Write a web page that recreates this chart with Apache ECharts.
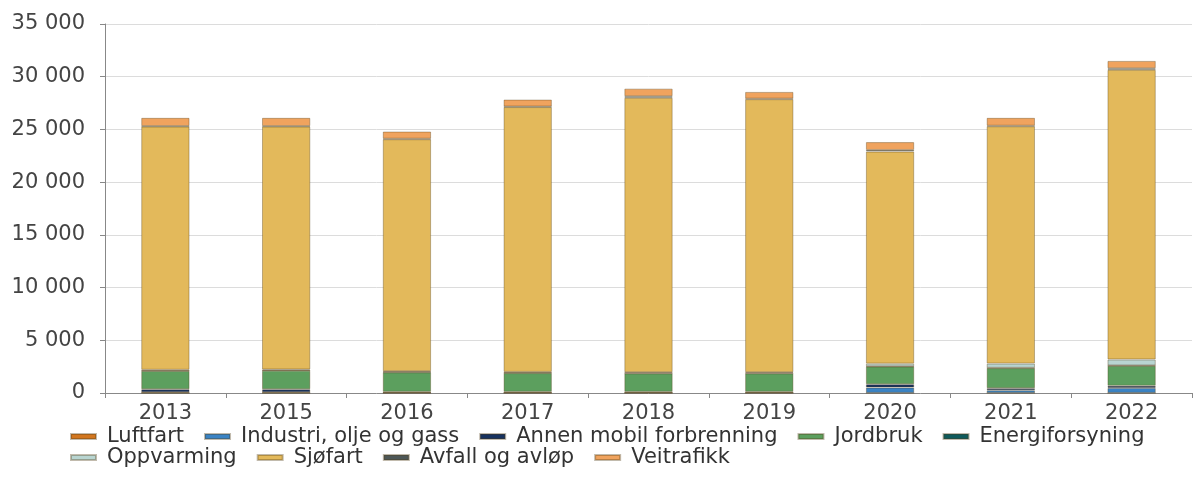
<!DOCTYPE html>
<html>
<head>
<meta charset="utf-8">
<script src="https://cdn.jsdelivr.net/npm/echarts@6/dist/echarts.min.js"></script>
<style>html,body{margin:0;padding:0;background:#fff}#c{width:1194px;height:496px}</style>
</head>
<body>
<div id="c"></div>
<script>
var categories = ['2013','2015','2016','2017','2018','2019','2020','2021','2022'];
var luftfart        = [10, 10, 10, 10, 10, 10, 10, 10, 10];
var industri        = [50, 50, 40, 40, 40, 40, 500, 250, 470];
var annenMobil      = [300, 300, 60, 60, 60, 60, 320, 200, 200];
var jordbruk        = [1730, 1760, 1850, 1780, 1750, 1750, 1675, 1900, 1900];
var energiforsyning = [30, 30, 30, 30, 30, 30, 30, 30, 30];
var oppvarming      = [80, 80, 80, 80, 80, 80, 250, 400, 570];
var sjofart         = [23070, 23040, 22000, 25120, 26030, 25900, 20115, 22510, 27470];
var avfall          = [50, 50, 50, 50, 150, 50, 150, 50, 150];
var veitrafikk      = [780, 780, 680, 660, 720, 640, 750, 750, 700];
var yTicks = [0, 5000, 10000, 15000, 20000, 25000, 30000, 35000];

var seriesDefs = [
  ['Luftfart', luftfart, '#d2761f'],
  ['Industri, olje og gass', industri, '#3a83c4'],
  ['Annen mobil forbrenning', annenMobil, '#17325f'],
  ['Jordbruk', jordbruk, '#5c9f5e'],
  ['Energiforsyning', energiforsyning, '#0f5a5c'],
  ['Oppvarming', oppvarming, '#b8d5d1'],
  ['Sjøfart', sjofart, '#e3b95b'],
  ['Avfall og avløp', avfall, '#4d5757'],
  ['Veitrafikk', veitrafikk, '#f0a35e']
];

function fmt(v){ return String(v).replace(/\B(?=(\d{3})+(?!\d))/g, ' '); }

var chart = echarts.init(document.getElementById('c'));
chart.setOption({
  animation: false,
  textStyle: { fontFamily: 'DejaVu Sans, sans-serif' },
  grid: { left: 105, right: 2, top: 24, bottom: 103 },
  legend: {
    left: 65, top: 421, width: 1110,
    icon: 'rect', itemWidth: 25, itemHeight: 5, itemGap: 0,
    textStyle: { fontSize: 21, color: '#333', padding: [0,20,0,6], lineHeight: 16 },
    data: seriesDefs.map(function(d){ return d[0]; })
  },
  xAxis: {
    type: 'category', data: categories,
    axisLine: { show: true, lineStyle: { color: '#888' } },
    axisTick: { show: true, length: 5, lineStyle: { color: '#888' } },
    axisLabel: { fontSize: 21, color: '#444', margin: 10 }
  },
  yAxis: {
    type: 'value', min: 0, max: 35000, interval: 5000,
    axisLine: { show: true, lineStyle: { color: '#888' } },
    axisTick: { show: true, length: 5, lineStyle: { color: '#888' } },
    splitLine: { lineStyle: { color: '#dcdcdc' } },
    axisLabel: { fontSize: 21, color: '#444', margin: 20, formatter: function(v){ return fmt(v); } }
  },
  series: seriesDefs.map(function(d){
    return {
      name: d[0], type: 'bar', stack: 'total', data: d[1], barWidth: '40%',
      itemStyle: { color: d[2], borderColor: 'rgba(80,60,20,0.35)', borderWidth: 1 }
    };
  })
});
</script>
</body>
</html>
